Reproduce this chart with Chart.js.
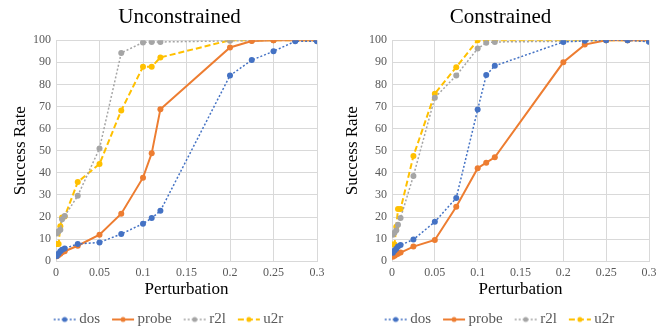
<!DOCTYPE html>
<html>
<head>
<meta charset="utf-8">
<script src="https://cdn.jsdelivr.net/npm/chart.js@4"></script>
<style>
  body { margin: 0; background: #fff; }
  .wrap { display: flex; width: 668px; height: 329px; }
  canvas { display: block; }
</style>
</head>
<body>
<div class="wrap">
  <canvas id="unc" width="334" height="329"></canvas>
  <canvas id="con" width="334" height="329"></canvas>
</div>
<script>
// perturbation levels (x)
const pert = [0.001, 0.003, 0.005, 0.007, 0.01, 0.025, 0.05, 0.075, 0.1, 0.11, 0.12, 0.2, 0.225, 0.25, 0.275, 0.3];

// Unconstrained success rates
const dosU   = [2.3, 3.5, 4.5, 5.2, 5.8, 7.8, 8.5, 12.3, 17, 19.5, 22.8, 84, 91, 95, 99.5, 99.5];
const probeU = [2.2, 2.8, 3.4, 4, 4.5, 7, 12, 21.5, 37.8, 48.8, 68.8, 96.7, 99.6, 100, 100, 100];
const r2lU   = [12.5, 13.5, 14.2, 19, 20.4, 29.6, 51, 94.2, 99, 99.2, 99.2, 99.7, 99.7, 100, 100, 99.6];
const u2rU   = [7.8, 7.8, 15.8, 19.8, 20.2, 35.8, 44, 68.2, 88, 88, 92.2, 100, 100, 100, 100, 100];

// Constrained success rates
const dosC   = [3.8, 4.8, 5.6, 6.6, 7.3, 9.8, 17.8, 28.6, 68.6, 84.2, 88.4, 99.2, 99.7, 100, 100, 99.3];
const probeC = [2, 2.5, 3, 3.4, 3.9, 6.6, 9.6, 24.6, 42.1, 44.6, 47, 90, 98, 100, 100, 100];
const r2lC   = [12, 13, 14, 16.5, 19.6, 38.6, 74, 84, 96.2, 98.8, 99.2, 99.5, 100, 100, 100, 99.4];
const u2rC   = [7.6, 7.6, 15.6, 23.6, 23.6, 47.6, 75.8, 87.8, 100, 100, 100, 100, 100, 100, 100, 100];

const seriesNames = ['dos', 'probe', 'r2l', 'u2r'];
const colors = ['#4472C4', '#ED7D31', '#A5A5A5', '#FFC000'];
const dashes = [[2, 2], [], [2, 2], [6, 3]];
const widths = [1.5, 2, 1.5, 2];

const serif = '"Liberation Serif", "Times New Roman", serif';

// small line+dot images for the legend (line sits in the right part of the image)
function legendIcon(i) {
    const c = document.createElement('canvas');
    c.width = 36; c.height = 8;
    const g = c.getContext('2d');
    g.strokeStyle = colors[i];
    g.lineWidth = widths[i];
    g.setLineDash(dashes[i]);
    g.beginPath(); g.moveTo(12, 4); g.lineTo(34, 4); g.stroke();
    g.fillStyle = colors[i];
    g.beginPath(); g.arc(23, 4, 2.5, 0, Math.PI * 2); g.fill();
    return c;
}
const icons = seriesNames.map((_, i) => legendIcon(i));

// shift title / legend sideways after layout
const nudge = {
    id: 'nudge',
    afterLayout(chart, args, opts) {
        if (chart.titleBlock) { chart.titleBlock.left += opts.title; chart.titleBlock.right += opts.title; }
        if (chart.legend) { chart.legend.left += opts.legend; chart.legend.right += opts.legend; }
    }
};

function makeChart(id, title, values, yWidth, padRight, yTitlePad, shift) {
    const datasets = values.map((arr, i) => ({
        label: seriesNames[i],
        data: arr.map((v, k) => ({ x: pert[k], y: v })),
        borderColor: colors[i],
        backgroundColor: colors[i],
        borderWidth: widths[i],
        borderDash: dashes[i],
        pointRadius: 3,
        pointBorderWidth: 0,
        pointStyle: 'circle',
        tension: 0
    }));

    return new Chart(document.getElementById(id), {
        type: 'line',
        data: { datasets },
        plugins: [nudge],
        options: {
            responsive: false,
            animation: false,
            layout: { padding: { left: 0, right: padRight, top: 0, bottom: -8 } },
            plugins: {
                nudge: shift,
                title: {
                    display: true,
                    text: title,
                    color: '#000',
                    font: { family: serif, size: 21, weight: 'normal' },
                    padding: { top: 5, bottom: 10 }
                },
                legend: {
                    position: 'bottom',
                    labels: {
                        color: '#595959',
                        font: { family: serif, size: 15 },
                        usePointStyle: true,
                        pointStyleWidth: 24,
                        padding: 6,
                        generateLabels: chart => seriesNames.map((n, i) => ({
                            text: n,
                            pointStyle: icons[i],
                            fillStyle: colors[i],
                            strokeStyle: colors[i],
                            lineWidth: 0,
                            hidden: false,
                            datasetIndex: i,
                            fontColor: '#595959'
                        }))
                    }
                },
                tooltip: { enabled: false }
            },
            scales: {
                x: {
                    type: 'linear',
                    min: 0,
                    max: 0.3,
                    ticks: {
                        stepSize: 0.05,
                        color: '#595959',
                        font: { family: serif, size: 12 },
                        maxRotation: 0,
                        padding: 4,
                        callback: v => String(+v.toFixed(2))
                    },
                    grid: { color: '#d9d9d9', drawTicks: false },
                    border: { color: '#d9d9d9' },
                    title: {
                        display: true,
                        text: 'Perturbation',
                        color: '#000',
                        font: { family: serif, size: 17, weight: 'normal' },
                        padding: { top: -4, bottom: 6 }
                    }
                },
                y: {
                    min: 0,
                    max: 100,
                    ticks: {
                        stepSize: 10,
                        color: '#595959',
                        font: { family: serif, size: 12 },
                        padding: 5
                    },
                    grid: { color: '#d9d9d9', drawTicks: false },
                    border: { display: false },
                    title: {
                        display: true,
                        text: 'Success Rate',
                        color: '#000',
                        font: { family: serif, size: 17, weight: 'normal' },
                        padding: { top: yTitlePad, bottom: 0 }
                    },
                    afterFit: s => { s.width = yWidth; }
                }
            }
        }
    });
}

makeChart('unc', 'Unconstrained', [dosU, probeU, r2lU, u2rU], 56, 17, 10, { title: 21, legend: 7 });
makeChart('con', 'Constrained', [dosC, probeC, r2lC, u2rC], 58, 19, 8, { title: 9, legend: 5 });
</script>
</body>
</html>
